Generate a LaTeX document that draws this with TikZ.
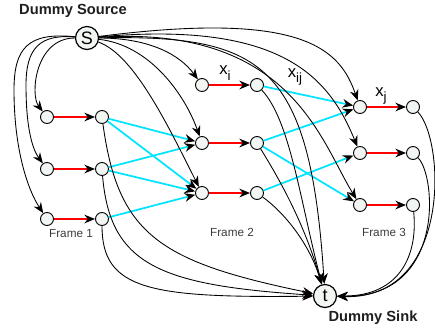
\documentclass[tikz,border=0pt]{standalone}
\usepackage{fontspec}
\setmainfont{Liberation Sans}
\usetikzlibrary{arrows.meta}
\definecolor{nodefill}{RGB}{242,246,242}
\definecolor{flowcyan}{RGB}{0,228,255}
\definecolor{framegray}{RGB}{60,60,60}
\definecolor{titleink}{RGB}{30,30,30}
\newcommand{\lowsub}[1]{\raisebox{-0.6ex}{\fontsize{10}{10}\selectfont #1}}
\begin{document}
\begin{tikzpicture}[x=0.75pt,y=-0.75pt,
  obs/.style={circle,draw=black,line width=0.7pt,fill=nodefill,minimum size=9.75pt,inner sep=0pt},
  term/.style={circle,draw=black,line width=0.9pt,fill=nodefill,minimum size=17.25pt,inner sep=0pt,font=\fontsize{13.5}{13.5}\selectfont},
  tip/.style={-{Stealth[length=8pt,width=6.5pt,inset=2.6pt,color=black]}},
  arc/.style={tip,draw=black,line width=0.65pt},
  obsedge/.style={tip,draw=red,line width=1.1pt},
  trans/.style={tip,draw=flowcyan,line width=1.3pt},
  flabel/.style={text=framegray,font=\fontsize{8.8}{10}\selectfont,inner sep=0pt},
  xlabel/.style={font=\fontsize{12.5}{13}\selectfont,inner sep=0pt},
  title/.style={text=titleink,font=\bfseries\fontsize{11}{13}\selectfont,inner sep=0pt}
]
\useasboundingbox (0,0) rectangle (435,330);

% terminals
\node[term] (S) at (87,38) {S};
\node[term] (t) at (325,296) {t};

% frame 1
\node[obs] (F1L1) at (47,117) {};
\node[obs] (F1L2) at (47,169) {};
\node[obs] (F1L3) at (47,219) {};
\node[obs] (F1R1) at (102,117) {};
\node[obs] (F1R2) at (102,169) {};
\node[obs] (F1R3) at (102,219) {};
% frame 2
\node[obs] (F2L1) at (202,85) {};
\node[obs] (F2L2) at (202,143) {};
\node[obs] (F2L3) at (202,193) {};
\node[obs] (F2R1) at (257,85) {};
\node[obs] (F2R2) at (257,143) {};
\node[obs] (F2R3) at (257,193) {};
% frame 3
\node[obs] (F3L1) at (360,107) {};
\node[obs] (F3L2) at (360,153) {};
\node[obs] (F3L3) at (360,205) {};
\node[obs] (F3R1) at (413,107) {};
\node[obs] (F3R2) at (413,153) {};
\node[obs] (F3R3) at (413,205) {};

% labels
\node[title] (srclabel) at (73,11) {Dummy Source};
\node[title] (sinklabel) at (373,318) {Dummy Sink};
\node[flabel] (fr1) at (71,234) {Frame 1};
\node[flabel] (fr2) at (232,232) {Frame 2};
\node[flabel] (fr3) at (384,232) {Frame 3};
\node[xlabel] (xi) at (225,73) {x\lowsub{i}};
\node[xlabel] (xij) at (295,77) {x\lowsub{ij}};
\node[xlabel] (xj) at (381,96) {x\lowsub{j}};

% observation edges
\draw[obsedge] (F1L1) -- (F1R1);
\draw[obsedge] (F1L2) -- (F1R2);
\draw[obsedge] (F1L3) -- (F1R3);
\draw[obsedge] (F2L1) -- (F2R1);
\draw[obsedge] (F2L2) -- (F2R2);
\draw[obsedge] (F2L3) -- (F2R3);
\draw[obsedge] (F3L1) -- (F3R1);
\draw[obsedge] (F3L2) -- (F3R2);
\draw[obsedge] (F3L3) -- (F3R3);

% transition edges
\draw[trans] (F1R1) -- (F2L2);
\draw[trans] (F1R1) -- (F2L3);
\draw[trans] (F1R2) -- (F2L2);
\draw[trans] (F1R2) -- (F2L3);
\draw[trans] (F1R3) -- (F2L3);
\draw[trans] (F2R1) -- (F3L1);
\draw[trans] (F2R2) -- (F3L1);
\draw[trans] (F2R2) -- (F3L3);
\draw[trans] (F2R3) -- (F3L2);

% source edges
\draw[arc] (S) .. controls (35,38) and (30,95) .. (F1L1);
\draw[arc] (S) .. controls (40,34) and (26,48) .. (26,85) .. controls (26,130) and (33,150) .. (F1L2);
\draw[arc] (S) .. controls (28,32) and (14,48) .. (14,90) .. controls (14,150) and (28,190) .. (F1L3);
\draw[arc] (S) .. controls (150,38) and (180,55) .. (F2L1);
\draw[arc] (S) .. controls (150,45) and (185,95) .. (F2L2);
\draw[arc] (S) .. controls (135,55) and (170,130) .. (F2L3);
\draw[arc] (S) .. controls (305,10) and (340,50) .. (F3L1);
\draw[arc] (S) .. controls (285,20) and (330,80) .. (F3L2);
\draw[arc] (S) .. controls (290,25) and (320,140) .. (F3L3);
\draw[arc] (S) .. controls (260,35) and (310,60) .. (t);

% sink edges
\draw[arc] (F1R1) .. controls (118,235) and (160,262) .. (t);
\draw[arc] (F1R2) .. controls (110,265) and (160,285) .. (t);
\draw[arc] (F1R3) .. controls (102,290) and (150,298) .. (t);
\draw[arc] (F2R1) .. controls (290,120) and (300,200) .. (t);
\draw[arc] (F2R2) .. controls (280,180) and (305,225) .. (t);
\draw[arc] (F2R3) .. controls (285,213) and (310,245) .. (t);
\draw[arc] (F3R1) .. controls (445,140) and (452,300) .. (t);
\draw[arc] (F3R2) .. controls (436,175) and (446,298) .. (t);
\draw[arc] (F3R3) .. controls (418,255) and (400,296) .. (t);
\end{tikzpicture}
\end{document}
